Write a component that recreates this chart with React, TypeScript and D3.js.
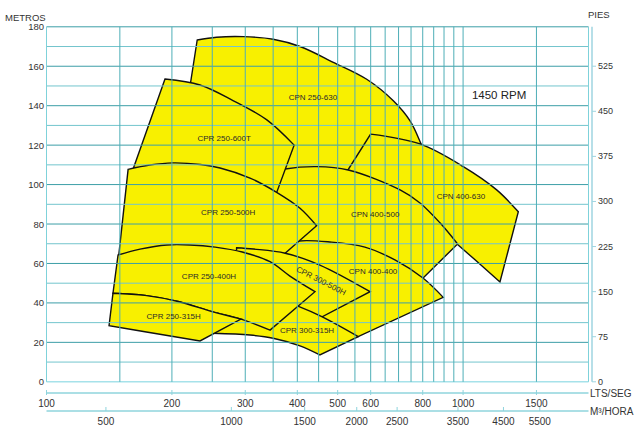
import React from "react";
import * as d3 from "d3";

type Pt = [number, number];

// ---- axes / ticks ----
const gridFlows = [100, 150, 200, 250, 300, 350, 400, 450, 500, 550, 600, 650, 700, 750, 800, 850, 900, 950, 1000, 1500, 2000];
const gridHeads = [0, 10, 20, 30, 40, 50, 60, 70, 80, 90, 100, 110, 120, 130, 140, 150, 160, 170, 180];
const headTicks = [0, 20, 40, 60, 80, 100, 120, 140, 160, 180];
const feetTicks = [0, 75, 150, 225, 300, 375, 450, 525];
const lpsTicks = [100, 200, 300, 400, 500, 600, 800, 1000, 1500];
const m3hTicks = [500, 1000, 1500, 2000, 2500, 3500, 4500, 5500];

// ---- pump ranges: [flow l/s, head m] ----
const cpn250_630Top: Pt[] = [[230, 173.3], [256, 174.7], [297, 175], [350, 173.7], [406, 170], [488, 162], [587, 153.4], [680, 142.5], [746, 132.3], [795, 120], [833, 110]];
const cpn250_630Bottom: Pt[] = [[213, 128], [374, 98], [535, 95.5], [810, 88]];

const cpn400_630Top: Pt[] = [[600, 125.6], [788, 120.6], [1001, 109.1], [1204, 97.3], [1357, 86.2]];
const cpn400_630Bottom: Pt[] = [[509, 101.8], [632, 97.3], [788, 86.1], [967, 69.9], [1226, 50.6]];

const cpn400_500Top: Pt[] = [[354, 106.6], [374, 107.9], [445, 109.1], [530, 107.4], [706, 97.3], [788, 90.7], [880, 80.6], [970, 69.9]];
const cpn400_500Bottom: Pt[] = [[348, 69.4], [429, 66.8], [598, 60.7], [784, 50.6]];

const cpr250_600tTop: Pt[] = [[192.5, 153.5], [233.6, 150.5], [281, 142.5], [338, 132.8], [393, 120]];
const cpr250_600tBottom: Pt[] = [[159, 104], [234, 105.5], [356, 95.4]];

const cpn400_400Top: Pt[] = [[370, 68.9], [404, 71.4], [479, 70.9], [581, 68.3], [686, 61.8], [801, 52.6], [896, 42.8]];
const cpn400_400Bottom: Pt[] = [[370, 60.7], [406, 31.3], [506, 24.2], [560, 22.9]];

const cpr250_500hTop: Pt[] = [[157, 107.7], [177, 109.9], [201, 111], [234, 110.2], [261, 108.4], [308, 103.3], [356, 96.2], [406, 88], [445, 79.1]];
const cpr250_500hBottom: Pt[] = [[148.5, 60.8], [209, 63.8], [291, 62.8], [363, 62.8]];

const cpr300_500hTop: Pt[] = [[286, 68], [314, 67.3], [374, 65.2], [453, 59.2], [598, 45.7]];
const cpr300_500hBottom: Pt[] = [[283, 46.5], [344, 38.9], [406, 35.3], [448, 31.8]];

const cpr300_315hTop: Pt[] = [[268, 47.1], [344, 43], [404, 38.1], [458, 33], [560, 22.9]];
const cpr300_315hBottom: Pt[] = [[251, 24.6], [308, 23.7], [350, 22.1], [406, 18.2], [453, 13.6]];

const cpr250_400hTop: Pt[] = [[148.5, 64.3], [167.7, 67.3], [194.6, 69.4], [221, 69.4], [254, 68.3], [295, 65.8], [344, 60.9], [384, 53.6], [441, 45.7]];
const cpr250_400hBottom: Pt[] = [[144.4, 44.9], [172.3, 43.8], [207, 40.7], [249.6, 35.6], [293, 31.8], [344, 26.2]];

const cpr250_315hTop: Pt[] = [[144.4, 44.9], [172.3, 43.8], [207, 40.7], [249.6, 35.6], [293, 31.8]];
const cpr250_315hBottom: Pt[] = [[141.3, 28.4], [172.3, 25.4], [233.6, 20.7]];

// drawing order (back to front)
const regionOrder: [Pt[], Pt[]][] = [
  [cpn250_630Top, cpn250_630Bottom],
  [cpn400_630Top, cpn400_630Bottom],
  [cpn400_500Top, cpn400_500Bottom],
  [cpr250_600tTop, cpr250_600tBottom],
  [cpn400_400Top, cpn400_400Bottom],
  [cpr250_500hTop, cpr250_500hBottom],
  [cpr300_500hTop, cpr300_500hBottom],
  [cpr300_315hTop, cpr300_315hBottom],
  [cpr250_400hTop, cpr250_400hBottom],
  [cpr250_315hTop, cpr250_315hBottom],
];

// labels: name, flow, head, rotation
const labelNames = ["CPN 250-630", "CPR 250-600T", "CPR 250-500H", "CPN 400-500", "CPN 400-630", "CPR 250-400H", "CPR 300-500H", "CPN 400-400", "CPR 250-315H", "CPR 300-315H"];
const labelFlows = [436, 267, 273, 615, 988, 245.5, 456, 608, 202, 422];
const labelHeads = [144.4, 123.6, 85.6, 84.6, 94.2, 53.6, 51.1, 55.7, 32.9, 25.8];
const labelAngles = [0, 0, 0, 0, 0, 0, 27, 0, 0, 0];

const speedLabel = "1450 RPM";
const speedPos: Pt = [1220, 145.4];

const FONT = "'Liberation Sans', Arial, Helvetica, sans-serif";

export default function App() {
  const x = d3.scaleLog().domain([100, 2000]).range([46.5, 588.5]);
  const y = d3.scaleLinear().domain([0, 180]).range([381.8, 26.8]);
  const yFt = d3.scaleLinear().domain([0, 180 / 0.3048]).range([381.8, 26.8]);
  const xM3 = d3.scaleLog().domain([360, 7200]).range([46.5, 588.5]);

  const line = d3
    .line<Pt>()
    .x((d) => x(d[0]))
    .y((d) => y(d[1]))
    .curve(d3.curveCatmullRom.alpha(0.5));

  const regionPath = (top: Pt[], bottom: Pt[]) => {
    const a = line(top) || "";
    const b = (line([...bottom].reverse()) || "").replace(/^M/, "L");
    return a + b + "Z";
  };

  const x0 = x(100), x1 = x(2000);
  const yTop = y(180), yBot = y(0);
  const axisLps = 393;
  const axisM3 = 411;
  const rightAxisX = 592;

  return (
    <svg width={640} height={432} style={{ position: "absolute", left: 0, top: 0, background: "#fff" }} fontFamily={FONT}>
      <rect x={0} y={0} width={640} height={432} fill="#fff" />

      {/* regions */}
      {regionOrder.map(([t, b], i) => (
        <path key={i} d={regionPath(t, b)} fill="#f8f000" stroke="#111" strokeWidth={1.4} strokeLinejoin="miter" />
      ))}

      {/* grid */}
      {gridHeads.map((h) => (
        <line key={"h" + h} x1={x0} x2={x1} y1={y(h)} y2={y(h)}
          stroke={h === 0 ? "#a6e2ea" : h % 20 === 0 ? "#3c9ea7" : "#73c5cd"} strokeWidth={h === 0 ? 1.5 : 1} />
      ))}
      {gridFlows.map((q) => (
        <line key={"v" + q} x1={x(q)} x2={x(q)} y1={yTop} y2={yBot}
          stroke={q === 100 || q === 2000 ? "#7fd2da" : "#4eaeb7"} strokeWidth={1} />
      ))}

      {/* region labels */}
      {labelNames.map((n, i) => {
        const lx = x(labelFlows[i]);
        const ly = y(labelHeads[i]);
        return (
          <text key={n} x={lx} y={ly} fontSize={8} fill="#2a2a2a" textAnchor="middle" dominantBaseline="central"
            transform={labelAngles[i] ? `rotate(${labelAngles[i]} ${lx} ${ly})` : undefined}>
            {n}
          </text>
        );
      })}

      <text x={x(speedPos[0])} y={y(speedPos[1])} fontSize={11.5} fill="#222" textAnchor="middle" dominantBaseline="central">
        {speedLabel}
      </text>

      {/* left axis */}
      {headTicks.map((h) => (
        <text key={"lt" + h} x={44} y={y(h)} fontSize={9.5} fill="#333" textAnchor="end" dominantBaseline="central">
          {h}
        </text>
      ))}
      <text x={5} y={17} fontSize={9.5} fill="#333" dominantBaseline="central">METROS</text>

      {/* right axis */}
      <line x1={rightAxisX} x2={rightAxisX} y1={yTop} y2={yBot} stroke="#9fd5e0" strokeWidth={1.5} />
      {feetTicks.map((f) => (
        <g key={"ft" + f}>
          <line x1={rightAxisX} x2={rightAxisX + 4} y1={yFt(f)} y2={yFt(f)} stroke="#9fd5e0" strokeWidth={1} />
          <text x={598} y={yFt(f)} fontSize={9} fill="#333" dominantBaseline="central">{f}</text>
        </g>
      ))}
      <text x={588} y={14} fontSize={9.5} fill="#333" dominantBaseline="central">PIES</text>

      {/* bottom axis l/s */}
      <line x1={x0} x2={x1} y1={axisLps} y2={axisLps} stroke="#8fd4dd" strokeWidth={1.5} />
      {lpsTicks.map((q) => (
        <g key={"lps" + q}>
          <line x1={x(q)} x2={x(q)} y1={axisLps - 3} y2={axisLps + 2} stroke="#8fd4dd" strokeWidth={1} />
          <text x={x(q)} y={403.5} fontSize={10} fill="#333" textAnchor="middle" dominantBaseline="central">{q}</text>
        </g>
      ))}
      <text x={590} y={393} fontSize={10} fill="#333" dominantBaseline="central">LTS/SEG</text>

      {/* bottom axis m3/h */}
      <line x1={x0} x2={x1} y1={axisM3} y2={axisM3} stroke="#8fd4dd" strokeWidth={1.5} />
      {m3hTicks.map((m) => (
        <g key={"m3" + m}>
          <line x1={xM3(m)} x2={xM3(m)} y1={axisM3 - 4} y2={axisM3} stroke="#8fd4dd" strokeWidth={1} />
          <text x={xM3(m)} y={421.5} fontSize={10} fill="#333" textAnchor="middle" dominantBaseline="central">{m}</text>
        </g>
      ))}
      <text x={590} y={411.5} fontSize={10} fill="#333" dominantBaseline="central">M³/HORA</text>
    </svg>
  );
}
